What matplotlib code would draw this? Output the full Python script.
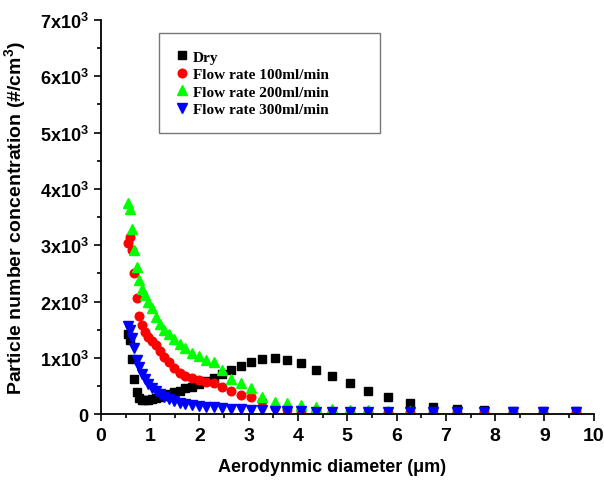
import matplotlib.pyplot as plt
from matplotlib.ticker import MultipleLocator, FixedLocator

plt.rcParams['font.family'] = 'Liberation Sans'
plt.rcParams['font.weight'] = 'bold'
plt.rcParams['mathtext.fontset'] = 'custom'
plt.rcParams['mathtext.bf'] = 'Liberation Sans:bold'
plt.rcParams['mathtext.rm'] = 'Liberation Sans:bold'
plt.rcParams['mathtext.default'] = 'bf'

# Aerodynamic diameter channels (um)
diam = [0.542, 0.583, 0.626, 0.673, 0.723, 0.777, 0.835, 0.898, 0.965, 1.037,
        1.114, 1.197, 1.286, 1.382, 1.486, 1.596, 1.715, 1.843, 1.981, 2.129,
        2.288, 2.458, 2.642, 2.839, 3.051, 3.278, 3.523, 3.786, 4.068, 4.371,
        4.698, 5.048, 5.425, 5.829, 6.264, 6.732, 7.234, 7.774, 8.354, 8.977,
        9.647]

# Number concentration (#/cm3)
dry = [1420, 1320, 980, 620, 400, 290, 260, 250, 260, 270,
       290, 310, 330, 360, 390, 420, 460, 490, 530, 580,
       640, 710, 780, 860, 930, 980, 1000, 960, 900, 780,
       680, 550, 420, 300, 200, 125, 85, 70, 60, 50,
       50]
flow100 = [3030, 3150, 2920, 2500, 2060, 1750, 1580, 1460, 1370, 1300,
           1220, 1130, 1020, 920, 820, 730, 680, 640, 610, 575,
           550, 490, 410, 340, 310, 230, 130, 70, 60, 50,
           45, 40, 35, 30, 30, 25, 25, 20, 20, 20,
           20]
flow200 = [3750, 3650, 3280, 2920, 2620, 2380, 2220, 2120, 2000, 1880,
           1720, 1600, 1500, 1420, 1330, 1250, 1170, 1080, 1030, 970,
           920, 790, 625, 550, 470, 310, 220, 190, 160, 130,
           100, 80, 70, 60, 50, 45, 40, 40, 35, 35,
           35]
flow300 = [1570, 1500, 1350, 1180, 970, 840, 720, 620, 540, 470,
           410, 360, 310, 270, 230, 200, 180, 160, 140, 130,
           120, 110, 100, 90, 80, 70, 60, 50, 50, 45,
           40, 40, 40, 40, 40, 40, 40, 40, 40, 40,
           40]

ytick_vals = [0, 1000, 2000, 3000, 4000, 5000, 6000, 7000]
ytick_labels = ['0'] + ['$%dx10^3$' % k for k in range(1, 8)]

fig = plt.figure(figsize=(6.04, 4.85), dpi=100)
ax = fig.add_axes([0.167, 0.144, 0.816, 0.813])

ax.plot(diam, dry, 's', color='black', ms=5.2, label='Dry')
ax.plot(diam, flow100, 'o', color='#ff0000', ms=6.2, label='Flow rate 100ml/min')
ax.plot(diam, flow200, '^', color='#00ff00', ms=7, label='Flow rate 200ml/min')
ax.plot(diam, flow300, 'v', color='#0000ff', ms=7, label='Flow rate 300ml/min')

ax.set_xlim(0, 10)
ax.set_ylim(0, 7000)
ax.xaxis.set_major_locator(MultipleLocator(1))
ax.xaxis.set_minor_locator(MultipleLocator(0.5))
ax.yaxis.set_major_locator(FixedLocator(ytick_vals))
ax.yaxis.set_minor_locator(MultipleLocator(500))
ax.set_yticklabels(ytick_labels)

ax.spines['top'].set_visible(False)
ax.spines['right'].set_visible(False)
ax.spines['left'].set_linewidth(1.3)
ax.spines['bottom'].set_linewidth(1.3)
ax.tick_params(which='major', direction='out', length=5, width=1.2, labelsize=14, pad=4)
ax.tick_params(which='minor', direction='out', length=3, width=1.2)
ax.tick_params(axis='y', labelsize=13)

ax.set_xlabel('Aerodynmic diameter (\u03bcm)', fontsize=13, fontweight='bold')
ax.xaxis.set_label_coords(0.47, -0.11)
ax.set_ylabel('Particle number concentration (#/cm$^3$)', fontsize=14, fontweight='bold')
ax.yaxis.set_label_coords(-0.148, 0.5)

# legend box stretched to the reference width
leg = ax.legend(loc='upper left', bbox_to_anchor=(0.118, 0.726, 0.448, 0.24), mode='expand',
                numpoints=1, prop={'family': 'Liberation Serif', 'weight': 'bold', 'size': 11},
                frameon=True, fancybox=False, borderpad=1.1, handlelength=0.8,
                handletextpad=0.3, labelspacing=0.25, borderaxespad=0)
leg.get_frame().set_edgecolor('#555555')
leg.get_frame().set_linewidth(1.0)

plt.savefig('out.png', dpi=100)
